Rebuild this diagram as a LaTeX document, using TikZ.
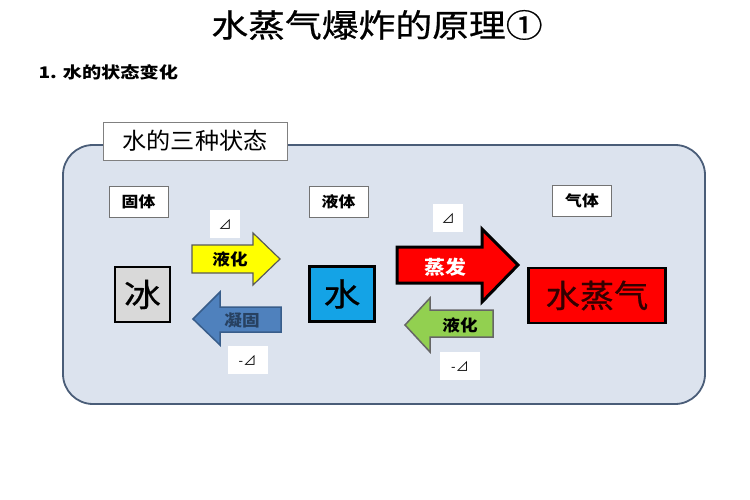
\documentclass[tikz,border=0pt]{standalone}
\usepackage{fontspec}
\setmainfont{Noto Sans CJK SC}
\newfontfamily\medfont{Noto Sans CJK SC}[FakeBold=0.6]
\usetikzlibrary{positioning}
\definecolor{panelfill}{HTML}{DCE3EE}
\definecolor{paneldraw}{HTML}{4A5D78}
\definecolor{icefill}{HTML}{D9D9D9}
\definecolor{waterfill}{HTML}{14A3E6}
\definecolor{meltfill}{HTML}{FFFF00}
\definecolor{freezefill}{HTML}{4F81BD}
\definecolor{freezedraw}{HTML}{385D8A}
\definecolor{condfill}{HTML}{92D050}
\newcommand{\fs}[1]{\fontsize{#1}{#1}\selectfont}
\newcommand{\wide}[2][1.15]{\scalebox{#1}[1]{#2}}
\begin{document}
\begin{tikzpicture}[x=1pt,y=-1pt,
  tag/.style={draw=gray!90!black,fill=white,font=\bfseries\fs{15},minimum width=59,minimum height=31,inner sep=0pt},
  delta/.style={fill=white,font=\fs{13},minimum width=30,minimum height=28,inner sep=0pt},
  phase/.style={draw=black,line width=2.5pt,minimum height=55,inner sep=0pt},
  arrowtext/.style={font=\bfseries\fs{16},inner sep=0pt}]
\useasboundingbox (0,0) rectangle (750,500);
\fill[white] (0,0) rectangle (750,500);
\node[font=\medfont\fs{32}] (title) at (377,25) {\wide{水蒸气爆炸的原理①}};
\node[anchor=west,font=\bfseries\fs{16}] (heading) at (35,72) {\wide[1.2]{1. 水的状态变化}};
%panel
\draw[paneldraw,line width=1.8pt,fill=panelfill,rounded corners=30] (63,145) rectangle (705,404);
\node[draw=gray,fill=white,minimum width=184,minimum height=38,inner sep=0pt,font=\fs{23}] (states) at (195,141) {\wide[1.05]{水的三种状态}};
\node[tag] (solid) at (138.5,201.5) {\wide[1.12]{固体}};
\node[tag] (liquid) at (338.5,201.5) {\wide[1.12]{液体}};
\node[tag] (gas) at (582,200.5) {\wide[1.12]{气体}};
\node[phase,fill=icefill,minimum width=55,font=\medfont\fs{32}] (ice) at (142.5,294.5) {\wide{冰}};
\node[phase,fill=waterfill,minimum width=65,font=\medfont\fs{32}] (water) at (342,294) {\wide{水}};
\node[phase,fill=red,minimum width=137,font=\medfont\fs{32},text=black!80!red] (steam) at (597,295.5) {\wide[1.07]{水蒸气}};
%arrows
\draw[fill=meltfill,draw=black!65,line width=1.2pt] (192,245) -- (253,245) -- (253,233) -- (280,259) -- (253,285) -- (253,273) -- (192,273) -- cycle;
\draw[fill=freezefill,draw=freezedraw,line width=1.5pt] (281,307) -- (220,307) -- (220,292) -- (193,319) -- (220,345) -- (220,332) -- (281,332) -- cycle;
\draw[fill=red,draw=black,line width=3pt] (397,247) -- (482,247) -- (482,229) -- (518,265) -- (482,302) -- (482,283) -- (397,283) -- cycle;
\draw[fill=condfill,draw=black!60,line width=1.5pt] (493,310) -- (430,310) -- (430,298) -- (405,325) -- (430,352) -- (430,337) -- (493,337) -- cycle;
\node[arrowtext] (melt) at (230,259) {\wide[1.1]{液化}};
\node[arrowtext,text=freezedraw!70!black] (freeze) at (242,320) {\wide[1.1]{凝固}};
\node[arrowtext,text=white,font=\bfseries\fs{19}] (boil) at (445,267) {\wide[1.1]{蒸发}};
\node[arrowtext] (condense) at (460,325) {\wide[1.1]{液化}};
\node[delta] (d1) at (225,224) {⊿};
\node[delta,minimum width=40] (d2) at (247.5,360) {-⊿};
\node[delta] (d3) at (448,218) {⊿};
\node[delta,minimum width=40] (d4) at (460,366) {-⊿};
\end{tikzpicture}
\end{document}
